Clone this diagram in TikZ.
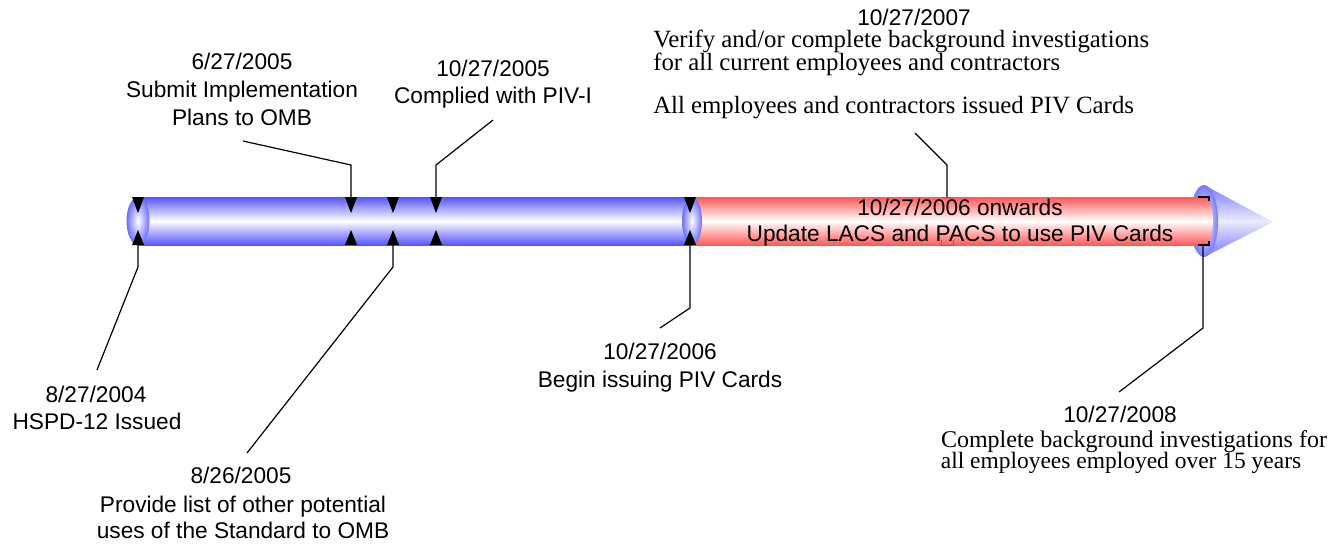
\documentclass[tikz,border=0pt]{standalone}
\usepackage{fontspec}
\setmainfont{Liberation Serif}
\setsansfont{Liberation Sans}
\definecolor{pipeblue}{RGB}{85,85,250}
\definecolor{pipered}{RGB}{255,88,88}
\definecolor{coneblue}{RGB}{120,120,250}
\definecolor{markgray}{RGB}{110,110,110}
\tikzset{
  lbl/.style={font=\sffamily\fontsize{17}{20}\selectfont, anchor=base, inner sep=0pt},
  slbl/.style={font=\rmfamily\fontsize{18}{20}\selectfont, anchor=base, inner sep=0pt, text depth=0pt},
  conn/.style={line width=0.9pt, black},
  bluepipe/.style={top color=pipeblue, bottom color=pipeblue, middle color=white, draw=none},
  redpipe/.style={top color=pipered, bottom color=pipered, middle color=white, draw=none},
  capshade/.style={inner color=white, outer color=pipeblue!85, draw=none},
}
\newcommand\dtri[1]{\fill (#1-6,197) -- (#1+6,197) -- (#1,213) -- cycle;}
\newcommand\utri[1]{\fill (#1-6,245) -- (#1+6,245) -- (#1,230) -- cycle;}
\begin{document}
\begin{tikzpicture}[x=0.75pt,y=-0.75pt]
\useasboundingbox (0,0) rectangle (1341,544);
% arrow head (cone)
\path[top color=coneblue, bottom color=coneblue, middle color=white!85!coneblue]
  (1204,185) -- (1273,222) -- (1204,257) -- cycle;
\path[inner color=white, outer color=coneblue] (1204,221) ellipse [x radius=14, y radius=36];
% blue pipe
\path[bluepipe] (138,197) rectangle (692,245);
\path[capshade] (138,221) ellipse [x radius=11.5, y radius=24];
% red pipe
\path[redpipe] (692,197) rectangle (1205,245);
\path[redpipe] (1205,221) ellipse [x radius=8, y radius=24];
\path[capshade] (692,221) ellipse [x radius=10, y radius=24];
% text in pipe
\node[lbl] (onw) at (960,215) {10/27/2006 onwards};
\node[lbl] (upd) at (960,241) {Update LACS and PACS to use PIV Cards};
% markers
\dtri{138}\utri{138}
\dtri{351}\utri{351}
\dtri{393}\utri{393}
\dtri{436}\utri{436}
\dtri{690}\utri{690}
\draw[line width=0.9pt] (1198,197) -- (1209,197) -- (1209,201);
\draw[line width=0.9pt] (1198,245) -- (1209,245) -- (1209,241);
\draw[markgray, line width=0.6pt] (941,197) -- (953,197);
\draw[markgray, line width=0.6pt] (941,240) -- (941,245) -- (953,245) -- (953,240);
% labels
\node[lbl] (d0804) at (96,402) {8/27/2004};
\node[lbl] (t0804) at (97,429) {HSPD-12 Issued};
\node[lbl] (d0605) at (242,69) {6/27/2005};
\node[lbl] (t0605a) at (242,97) {Submit Implementation};
\node[lbl] (t0605b) at (242,125) {Plans to OMB};
\node[lbl] (d1005) at (493,76) {10/27/2005};
\node[lbl] (t1005) at (493,103) {Complied with PIV-I};
\node[lbl] (d0805) at (241,483) {8/26/2005};
\node[lbl] (t0805a) at (243,512) {Provide list of other potential};
\node[lbl] (t0805b) at (243,538) {uses of the Standard to OMB};
\node[lbl] (d1006) at (660,359) {10/27/2006};
\node[lbl] (t1006) at (660,387) {Begin issuing PIV Cards};
\node[lbl] (d1007) at (914,25) {10/27/2007};
\node[slbl, font=\rmfamily\fontsize{18.6}{20}\selectfont, anchor=base west] (t1007a) at (653,47) {Verify and/or complete background investigations};
\node[slbl, font=\rmfamily\fontsize{18.6}{20}\selectfont, anchor=base west] (t1007b) at (653,70) {for all current employees and contractors};
\node[slbl, font=\rmfamily\fontsize{18.6}{20}\selectfont, anchor=base west] (t1007c) at (653,113) {All employees and contractors issued PIV Cards};
\node[lbl] (d1008) at (1120,422) {10/27/2008};
\node[slbl] (t1008a) at (1134,447) {Complete background investigations for};
\node[slbl, font=\rmfamily\fontsize{17.6}{20}\selectfont] (t1008b) at (1121,468) {all employees employed over 15 years};
% connector points
\coordinate (a1) at (97,370);   \coordinate (a2) at (138,267);  \coordinate (a3) at (138,245);
\coordinate (b1) at (247,453);  \coordinate (b2) at (393,267);  \coordinate (b3) at (393,245);
\coordinate (c1) at (660,328);  \coordinate (c2) at (690,308);  \coordinate (c3) at (690,245);
\coordinate (e1) at (1119,392); \coordinate (e2) at (1203,328); \coordinate (e3) at (1203,245);
\coordinate (f1) at (243,141);  \coordinate (f2) at (351,165);  \coordinate (f3) at (351,197);
\coordinate (g1) at (493,120);  \coordinate (g2) at (436,165);  \coordinate (g3) at (436,197);
\coordinate (h1) at (915,133);  \coordinate (h2) at (947,165);  \coordinate (h3) at (947,197);
\draw[conn] (a1) -- (a2) -- (a3);
\draw[conn] (b1) -- (b2) -- (b3);
\draw[conn] (c1) -- (c2) -- (c3);
\draw[conn] (e1) -- (e2) -- (e3);
\draw[conn] (f1) -- (f2) -- (f3);
\draw[conn] (g1) -- (g2) -- (g3);
\draw[conn] (h1) -- (h2) -- (h3);
\end{tikzpicture}
\end{document}
